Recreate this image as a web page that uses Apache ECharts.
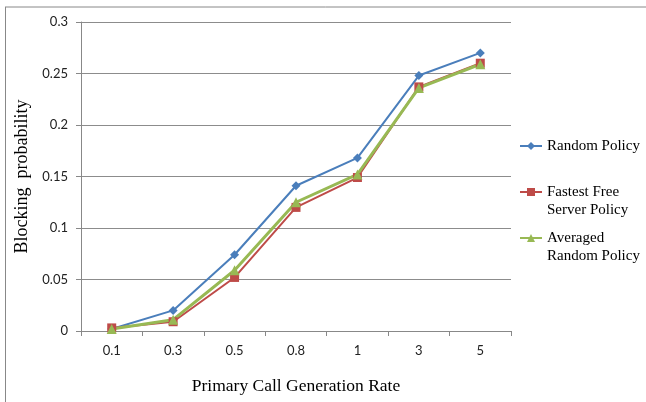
<!DOCTYPE html>
<html><head><meta charset="utf-8">
<script src="https://cdn.jsdelivr.net/npm/echarts@6/dist/echarts.min.js"></script>
<style>html,body{margin:0;padding:0;background:#fff}#c{width:646px;height:402px}</style>
</head><body><div id="c"></div>
<script>
const categories = ['0.1','0.3','0.5','0.8','1','3','5'];
const randomPolicy = [0.002, 0.020, 0.074, 0.141, 0.168, 0.248, 0.270];
const fastestFree = [0.003, 0.009, 0.052, 0.120, 0.149, 0.237, 0.260];
const averagedRandom = [0.002, 0.011, 0.059, 0.125, 0.152, 0.236, 0.259];
const yTicks = [0, 0.05, 0.1, 0.15, 0.2, 0.25, 0.3];

const serif = '"Liberation Serif", "DejaVu Serif", serif';
const sans = 'Lato, "Open Sans", sans-serif';
const chart = echarts.init(document.getElementById('c'));
function leg(name, label, top) {
  return {
    data: [name], orient: 'vertical', left: 519, top: top, padding: 0,
    itemWidth: 22, itemHeight: 10, selectedMode: false,
    formatter: () => label,
    textStyle: {fontFamily: serif, fontSize: 15, color: '#000', lineHeight: 18}
  };
}
chart.setOption({
  animation: false,
  backgroundColor: '#fff',
  graphic: [
    {type: 'line', shape: {x1: 5, y1: 7, x2: 646, y2: 7}, style: {stroke: '#888', lineWidth: 1}},
    {type: 'line', shape: {x1: 5.5, y1: 7, x2: 5.5, y2: 402}, style: {stroke: '#888', lineWidth: 1}}
  ],
  grid: {left: 81, top: 22, right: 135, bottom: 71},
  legend: [
    leg('Random Policy', 'Random Policy', 137),
    leg('Fastest Free Server Policy', '\nFastest Free\nServer Policy', 165),
    leg('Averaged Random Policy', '\nAveraged\nRandom Policy', 211)
  ],
  xAxis: {
    type: 'category', data: categories, boundaryGap: true,
    name: 'Primary Call Generation Rate', nameLocation: 'middle', nameGap: 46,
    nameTextStyle: {fontFamily: serif, fontSize: 17.5, color: '#000'},
    axisLine: {lineStyle: {color: '#888'}},
    axisTick: {show: true, length: 5, lineStyle: {color: '#888'}},
    axisLabel: {fontFamily: sans, fontSize: 13, color: '#222', margin: 13}
  },
  yAxis: {
    type: 'value', min: 0, max: 0.3, interval: 0.05,
    name: 'Blocking  probability', nameLocation: 'middle', nameGap: 50,
    nameTextStyle: {fontFamily: serif, fontSize: 18, color: '#000'},
    axisLine: {show: true, lineStyle: {color: '#888'}},
    axisTick: {show: true, length: 5, lineStyle: {color: '#888'}},
    axisLabel: {fontFamily: sans, fontSize: 13, color: '#222', margin: 13,
      formatter: v => { const t = yTicks.find(x => Math.abs(x - v) < 1e-9); return String(t !== undefined ? t : v); }},
    splitLine: {lineStyle: {color: '#8c8c8c', width: 1}}
  },
  series: [
    {name: 'Random Policy', type: 'line', data: randomPolicy, color: '#4A7EBB',
     symbol: 'diamond', symbolSize: 9, lineStyle: {width: 2}},
    {name: 'Fastest Free Server Policy', type: 'line', data: fastestFree, color: '#BE4B48',
     symbol: 'rect', symbolSize: 9, lineStyle: {width: 2}},
    {name: 'Averaged Random Policy', type: 'line', data: averagedRandom, color: '#98B954',
     symbol: 'triangle', symbolSize: 10, lineStyle: {width: 3}}
  ]
});
</script></body></html>
